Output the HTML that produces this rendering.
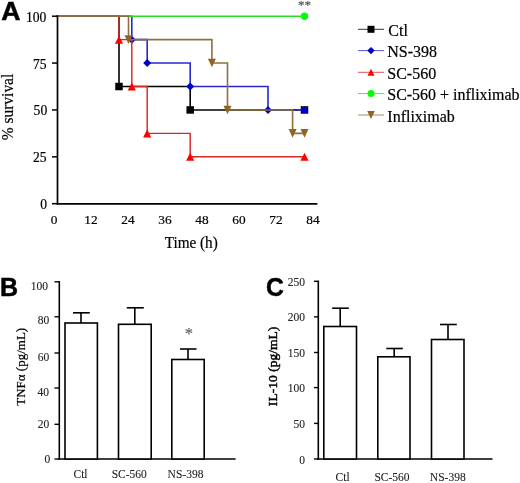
<!DOCTYPE html>
<html><head><meta charset="utf-8"><style>
html,body{margin:0;padding:0;background:#fff;}
svg{display:block;will-change:transform;}
</style></head><body>
<svg width="520" height="483" viewBox="0 0 520 483">
<rect width="520" height="483" fill="#fff"/>
<polyline points="57.5,16.2 119,16.2 119,86.51 190.2,86.51 190.2,109.95 304.5,109.95" fill="none" stroke="#000000" stroke-width="1.6" stroke-linejoin="miter" stroke-linecap="square"/>
<rect x="115.25" y="82.76" width="7.5" height="7.5" fill="#000000"/>
<rect x="186.45" y="106.2" width="7.5" height="7.5" fill="#000000"/>
<rect x="300.75" y="106.2" width="7.5" height="7.5" fill="#000000"/>
<polyline points="57.5,16.2 131.8,16.2 131.8,39.64 147.2,39.64 147.2,63.07 190.2,63.07 190.2,86.51 268,86.51 268,109.95 304.5,109.95" fill="none" stroke="#2828d0" stroke-width="1.6" stroke-linejoin="miter" stroke-linecap="square"/>
<polygon points="131.8,35.64 135.8,39.64 131.8,43.64 127.8,39.64" fill="#0000cc"/>
<polygon points="147.2,59.07 151.2,63.07 147.2,67.07 143.2,63.07" fill="#0000cc"/>
<polygon points="190.2,82.51 194.2,86.51 190.2,90.51 186.2,86.51" fill="#0000cc"/>
<polygon points="268,105.95 272.0,109.95 268,113.95 264.0,109.95" fill="#0000cc"/>
<rect x="301.4" y="106.85" width="6.2" height="6.2" fill="#0000cc"/>
<polyline points="57.5,16.2 119,16.2 119,39.64 131.8,39.64 131.8,86.51 147.2,86.51 147.2,133.39 190.2,133.39 190.2,156.82 304.5,156.82" fill="none" stroke="#d82828" stroke-width="1.45" stroke-linejoin="miter" stroke-linecap="square"/>
<polygon points="119,35.64 123.1,43.64 114.9,43.64" fill="#ff0000"/>
<polygon points="131.8,82.51 135.9,90.51 127.7,90.51" fill="#ff0000"/>
<polygon points="147.2,129.39 151.3,137.39 143.1,137.39" fill="#ff0000"/>
<polygon points="190.2,152.82 194.3,160.82 186.1,160.82" fill="#ff0000"/>
<polygon points="304.5,152.82 308.6,160.82 300.4,160.82" fill="#ff0000"/>
<polyline points="57.5,16.2 304.5,16.2" fill="none" stroke="#22dd22" stroke-width="1.6" stroke-linejoin="miter" stroke-linecap="square"/>
<circle cx="304.5" cy="16.2" r="3.7" fill="#00ff00"/>
<polyline points="57.5,16.2 128.5,16.2 128.5,39.64 211.9,39.64 211.9,63.07 227.5,63.07 227.5,109.95 292.6,109.95 292.6,133.39 304.5,133.39" fill="none" stroke="#8c7043" stroke-width="1.6" stroke-linejoin="miter" stroke-linecap="square"/>
<polygon points="124.5,35.34 132.5,35.34 128.5,43.94" fill="#93641f"/>
<polygon points="207.9,58.77 215.9,58.77 211.9,67.37" fill="#93641f"/>
<polygon points="223.5,105.65 231.5,105.65 227.5,114.25" fill="#93641f"/>
<polygon points="288.6,129.09 296.6,129.09 292.6,137.69" fill="#93641f"/>
<polygon points="300.5,129.09 308.5,129.09 304.5,137.69" fill="#93641f"/>
<line x1="57.5" y1="15.4" x2="57.5" y2="204.6" stroke="#000" stroke-width="1.7"/>
<line x1="56.7" y1="203.8" x2="317.4" y2="203.8" stroke="#000" stroke-width="1.7"/>
<line x1="52" y1="16.2" x2="57.5" y2="16.2" stroke="#000" stroke-width="1.5"/>
<line x1="52" y1="63.07" x2="57.5" y2="63.07" stroke="#000" stroke-width="1.5"/>
<line x1="52" y1="109.95" x2="57.5" y2="109.95" stroke="#000" stroke-width="1.5"/>
<line x1="52" y1="156.82" x2="57.5" y2="156.82" stroke="#000" stroke-width="1.5"/>
<line x1="52" y1="203.7" x2="57.5" y2="203.7" stroke="#000" stroke-width="1.5"/>
<text x="46.3" y="21.8" font-family='"Liberation Serif", serif' font-size="13.6" text-anchor="end" fill="#000" font-weight="normal" stroke="#000" stroke-width="0.2" >100</text>
<text x="46.6" y="68.6" font-family='"Liberation Serif", serif' font-size="13.6" text-anchor="end" fill="#000" font-weight="normal" stroke="#000" stroke-width="0.2" >75</text>
<text x="47.2" y="115.3" font-family='"Liberation Serif", serif' font-size="13.6" text-anchor="end" fill="#000" font-weight="normal" stroke="#000" stroke-width="0.2" >50</text>
<text x="46.6" y="162.1" font-family='"Liberation Serif", serif' font-size="13.6" text-anchor="end" fill="#000" font-weight="normal" stroke="#000" stroke-width="0.2" >25</text>
<text x="47" y="208.9" font-family='"Liberation Serif", serif' font-size="13.6" text-anchor="end" fill="#000" font-weight="normal" stroke="#000" stroke-width="0.2" >0</text>
<text x="54" y="223.9" font-family='"Liberation Serif", serif' font-size="13.3" text-anchor="middle" fill="#000" font-weight="normal" stroke="#000" stroke-width="0.2" >0</text>
<text x="91" y="223.9" font-family='"Liberation Serif", serif' font-size="13.3" text-anchor="middle" fill="#000" font-weight="normal" stroke="#000" stroke-width="0.2" >12</text>
<text x="128" y="223.9" font-family='"Liberation Serif", serif' font-size="13.3" text-anchor="middle" fill="#000" font-weight="normal" stroke="#000" stroke-width="0.2" >24</text>
<text x="165" y="223.9" font-family='"Liberation Serif", serif' font-size="13.3" text-anchor="middle" fill="#000" font-weight="normal" stroke="#000" stroke-width="0.2" >36</text>
<text x="202" y="223.9" font-family='"Liberation Serif", serif' font-size="13.3" text-anchor="middle" fill="#000" font-weight="normal" stroke="#000" stroke-width="0.2" >48</text>
<text x="239" y="223.9" font-family='"Liberation Serif", serif' font-size="13.3" text-anchor="middle" fill="#000" font-weight="normal" stroke="#000" stroke-width="0.2" >60</text>
<text x="276" y="223.9" font-family='"Liberation Serif", serif' font-size="13.3" text-anchor="middle" fill="#000" font-weight="normal" stroke="#000" stroke-width="0.2" >72</text>
<text x="313" y="223.9" font-family='"Liberation Serif", serif' font-size="13.3" text-anchor="middle" fill="#000" font-weight="normal" stroke="#000" stroke-width="0.2" >84</text>
<text x="191.2" y="248.1" font-family='"Liberation Serif", serif' font-size="16" text-anchor="middle" fill="#000" font-weight="normal" stroke="#000" stroke-width="0.2" textLength="53" lengthAdjust="spacingAndGlyphs">Time (h)</text>
<text x="0" y="0" font-family='"Liberation Serif", serif' font-size="16" text-anchor="middle" fill="#000" font-weight="normal" stroke="#000" stroke-width="0.2" transform="translate(12.6,107) rotate(-90)" textLength="66.5" lengthAdjust="spacingAndGlyphs">% survival</text>
<text x="304.5" y="8.6" font-family='"Liberation Serif", serif' font-size="13" text-anchor="middle" fill="#555" font-weight="normal" stroke="#555" stroke-width="0.2" >**</text>
<text x="0" y="0" font-family='"Liberation Sans", sans-serif' font-size="25.6" text-anchor="start" fill="#000" font-weight="bold" stroke="#000" stroke-width="0.5" transform="translate(1.3,19.6) scale(1.04,1)">A</text>
<line x1="358" y1="29.3" x2="384" y2="29.3" stroke="#000000" stroke-width="0.8"/>
<rect x="367.5" y="25.8" width="7" height="7" fill="#000000"/>
<text x="388.3" y="36.1" font-family='"Liberation Serif", serif' font-size="16" text-anchor="start" fill="#000" font-weight="normal" stroke="#000" stroke-width="0.2" >Ctl</text>
<line x1="358" y1="50.6" x2="384" y2="50.6" stroke="#2828d0" stroke-width="0.8"/>
<polygon points="371,46.9 374.7,50.6 371,54.3 367.3,50.6" fill="#0000cc"/>
<text x="387.3" y="57.4" font-family='"Liberation Serif", serif' font-size="16" text-anchor="start" fill="#000" font-weight="normal" stroke="#000" stroke-width="0.2" >NS-398</text>
<line x1="358" y1="72.3" x2="384" y2="72.3" stroke="#d82828" stroke-width="0.8"/>
<polygon points="371,68.8 374.5,75.8 367.5,75.8" fill="#ff0000"/>
<text x="387.3" y="79.1" font-family='"Liberation Serif", serif' font-size="16" text-anchor="start" fill="#000" font-weight="normal" stroke="#000" stroke-width="0.2" >SC-560</text>
<line x1="358" y1="93.6" x2="384" y2="93.6" stroke="#22dd22" stroke-width="0.8"/>
<circle cx="371" cy="93.6" r="3.5" fill="#00ff00"/>
<text x="387.3" y="100.4" font-family='"Liberation Serif", serif' font-size="16" text-anchor="start" fill="#000" font-weight="normal" stroke="#000" stroke-width="0.2" textLength="132.2" lengthAdjust="spacingAndGlyphs">SC-560 + infliximab</text>
<line x1="358" y1="115" x2="384" y2="115" stroke="#8c7043" stroke-width="0.8"/>
<polygon points="367.2,111.0 374.8,111.0 371,119.0" fill="#93641f"/>
<text x="387.3" y="121.8" font-family='"Liberation Serif", serif' font-size="16" text-anchor="start" fill="#000" font-weight="normal" stroke="#000" stroke-width="0.2" >Infliximab</text>
<text x="0" y="296.2" font-family='"Liberation Sans", sans-serif' font-size="25" text-anchor="start" fill="#000" font-weight="bold" stroke="#000" stroke-width="0.5" >B</text>
<line x1="59.3" y1="281" x2="59.3" y2="459.8" stroke="#000" stroke-width="1.6"/>
<line x1="58.5" y1="459" x2="235.6" y2="459" stroke="#000" stroke-width="1.6"/>
<line x1="54.5" y1="281.8" x2="59.3" y2="281.8" stroke="#000" stroke-width="1.4"/>
<line x1="54.5" y1="316.8" x2="59.3" y2="316.8" stroke="#000" stroke-width="1.4"/>
<line x1="54.5" y1="353" x2="59.3" y2="353" stroke="#000" stroke-width="1.4"/>
<line x1="54.5" y1="388" x2="59.3" y2="388" stroke="#000" stroke-width="1.4"/>
<line x1="54.5" y1="424.3" x2="59.3" y2="424.3" stroke="#000" stroke-width="1.4"/>
<line x1="54.5" y1="459" x2="59.3" y2="459" stroke="#000" stroke-width="1.4"/>
<text x="48" y="289.5" font-family='"Liberation Serif", serif' font-size="11.5" text-anchor="end" fill="#222" font-weight="normal" stroke="#222" stroke-width="0.1" >100</text>
<text x="49.2" y="324.0" font-family='"Liberation Serif", serif' font-size="11.5" text-anchor="end" fill="#222" font-weight="normal" stroke="#222" stroke-width="0.1" >80</text>
<text x="49.2" y="360.6" font-family='"Liberation Serif", serif' font-size="11.5" text-anchor="end" fill="#222" font-weight="normal" stroke="#222" stroke-width="0.1" >60</text>
<text x="49" y="395.5" font-family='"Liberation Serif", serif' font-size="11.5" text-anchor="end" fill="#222" font-weight="normal" stroke="#222" stroke-width="0.1" >40</text>
<text x="49.2" y="427.6" font-family='"Liberation Serif", serif' font-size="11.5" text-anchor="end" fill="#222" font-weight="normal" stroke="#222" stroke-width="0.1" >20</text>
<text x="50.2" y="462.7" font-family='"Liberation Serif", serif' font-size="11.5" text-anchor="end" fill="#222" font-weight="normal" stroke="#222" stroke-width="0.1" >0</text>
<rect x="65" y="323" width="32.4" height="136" fill="#fff" stroke="#000" stroke-width="1.6"/><line x1="81" y1="323" x2="81" y2="312.8" stroke="#000" stroke-width="1.6"/><line x1="73" y1="312.8" x2="89.8" y2="312.8" stroke="#000" stroke-width="1.6"/>
<rect x="118.5" y="324.3" width="32.7" height="134.7" fill="#fff" stroke="#000" stroke-width="1.6"/><line x1="134.8" y1="324.3" x2="134.8" y2="307.8" stroke="#000" stroke-width="1.6"/><line x1="126.8" y1="307.8" x2="143.8" y2="307.8" stroke="#000" stroke-width="1.6"/>
<rect x="171.8" y="359.5" width="32.4" height="99.5" fill="#fff" stroke="#000" stroke-width="1.6"/><line x1="188" y1="359.5" x2="188" y2="349" stroke="#000" stroke-width="1.6"/><line x1="180" y1="349" x2="196.5" y2="349" stroke="#000" stroke-width="1.6"/>
<text x="188.9" y="338.5" font-family='"Liberation Serif", serif' font-size="16.5" text-anchor="middle" fill="#666" font-weight="normal" stroke="#666" stroke-width="0.2" >*</text>
<text x="80.5" y="478" font-family='"Liberation Serif", serif' font-size="11.5" text-anchor="middle" fill="#222" font-weight="normal" stroke="#222" stroke-width="0.1" >Ctl</text>
<text x="129.3" y="478" font-family='"Liberation Serif", serif' font-size="11.5" text-anchor="middle" fill="#222" font-weight="normal" stroke="#222" stroke-width="0.1" >SC-560</text>
<text x="185.5" y="478" font-family='"Liberation Serif", serif' font-size="11.5" text-anchor="middle" fill="#222" font-weight="normal" stroke="#222" stroke-width="0.1" >NS-398</text>
<text x="0" y="0" font-family='"Liberation Serif", serif' font-size="13" text-anchor="middle" fill="#000" font-weight="normal" stroke="#000" stroke-width="0.2" transform="translate(24.6,366.8) rotate(-90)">TNFα (pg/mL)</text>
<text x="0" y="0" font-family='"Liberation Sans", sans-serif' font-size="26" text-anchor="start" fill="#000" font-weight="bold" stroke="#000" stroke-width="0.5" transform="translate(266.1,295.6) scale(0.95,1)">C</text>
<line x1="318.3" y1="280.6" x2="318.3" y2="459.8" stroke="#000" stroke-width="1.6"/>
<line x1="317.5" y1="459" x2="492.5" y2="459" stroke="#000" stroke-width="1.6"/>
<line x1="314" y1="281.3" x2="318.3" y2="281.3" stroke="#000" stroke-width="1.4"/>
<line x1="314" y1="316.9" x2="318.3" y2="316.9" stroke="#000" stroke-width="1.4"/>
<line x1="314" y1="352.5" x2="318.3" y2="352.5" stroke="#000" stroke-width="1.4"/>
<line x1="314" y1="387.6" x2="318.3" y2="387.6" stroke="#000" stroke-width="1.4"/>
<line x1="314" y1="423.4" x2="318.3" y2="423.4" stroke="#000" stroke-width="1.4"/>
<line x1="314" y1="459" x2="318.3" y2="459" stroke="#000" stroke-width="1.4"/>
<text x="305" y="285.8" font-family='"Liberation Serif", serif' font-size="11.5" text-anchor="end" fill="#222" font-weight="normal" stroke="#222" stroke-width="0.1" >250</text>
<text x="305" y="321.1" font-family='"Liberation Serif", serif' font-size="11.5" text-anchor="end" fill="#222" font-weight="normal" stroke="#222" stroke-width="0.1" >200</text>
<text x="305" y="356.7" font-family='"Liberation Serif", serif' font-size="11.5" text-anchor="end" fill="#222" font-weight="normal" stroke="#222" stroke-width="0.1" >150</text>
<text x="305" y="392.1" font-family='"Liberation Serif", serif' font-size="11.5" text-anchor="end" fill="#222" font-weight="normal" stroke="#222" stroke-width="0.1" >100</text>
<text x="305" y="428.1" font-family='"Liberation Serif", serif' font-size="11.5" text-anchor="end" fill="#222" font-weight="normal" stroke="#222" stroke-width="0.1" >50</text>
<text x="305" y="463.8" font-family='"Liberation Serif", serif' font-size="11.5" text-anchor="end" fill="#222" font-weight="normal" stroke="#222" stroke-width="0.1" >0</text>
<rect x="323.8" y="326.5" width="32.7" height="132.5" fill="#fff" stroke="#000" stroke-width="1.6"/><line x1="340.2" y1="326.5" x2="340.2" y2="308.2" stroke="#000" stroke-width="1.6"/><line x1="332.2" y1="308.2" x2="348.8" y2="308.2" stroke="#000" stroke-width="1.6"/>
<rect x="377.8" y="356.8" width="32.2" height="102.2" fill="#fff" stroke="#000" stroke-width="1.6"/><line x1="394.2" y1="356.8" x2="394.2" y2="348.5" stroke="#000" stroke-width="1.6"/><line x1="386.3" y1="348.5" x2="402.8" y2="348.5" stroke="#000" stroke-width="1.6"/>
<rect x="431.5" y="339.5" width="32.5" height="119.5" fill="#fff" stroke="#000" stroke-width="1.6"/><line x1="448" y1="339.5" x2="448" y2="324.5" stroke="#000" stroke-width="1.6"/><line x1="440" y1="324.5" x2="456.8" y2="324.5" stroke="#000" stroke-width="1.6"/>
<text x="342.6" y="480.8" font-family='"Liberation Serif", serif' font-size="11.5" text-anchor="middle" fill="#222" font-weight="normal" stroke="#222" stroke-width="0.1" >Ctl</text>
<text x="392.05" y="480.8" font-family='"Liberation Serif", serif' font-size="11.5" text-anchor="middle" fill="#222" font-weight="normal" stroke="#222" stroke-width="0.1" >SC-560</text>
<text x="447.75" y="480.8" font-family='"Liberation Serif", serif' font-size="11.5" text-anchor="middle" fill="#222" font-weight="normal" stroke="#222" stroke-width="0.1" >NS-398</text>
<text x="0" y="0" font-family='"Liberation Serif", serif' font-size="13.5" text-anchor="middle" fill="#000" font-weight="normal" stroke="#000" stroke-width="0.45" transform="translate(276.9,366.4) rotate(-90)" textLength="79.5" lengthAdjust="spacing">IL-10 (pg/mL)</text>
</svg>
</body></html>
